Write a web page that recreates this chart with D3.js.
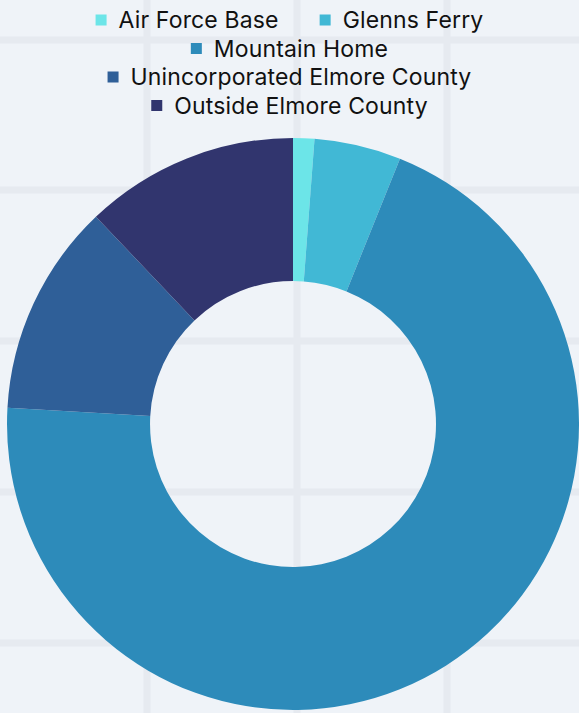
<!DOCTYPE html>
<html><head><meta charset="utf-8">
<script src="https://cdn.jsdelivr.net/npm/d3@7"></script>
<style>
html,body{margin:0;padding:0;background:#eff3f8;}
svg{display:block;}
</style></head>
<body>
<script>
const categories = ["Air Force Base","Glenns Ferry","Mountain Home","Unincorporated Elmore County","Outside Elmore County"];
const values = [1.2, 4.9, 69.8, 12.0, 12.1];
const colors = ["#6ce5e8","#41b8d5","#2d8bba","#2f5f98","#31356e"];

const W = 579, H = 713;
const svg = d3.select("body").append("svg").attr("width", W).attr("height", H);
svg.append("rect").attr("width", W).attr("height", H).attr("fill", "#eff3f8");

// background grid
const gridX = [147, 297, 447];
const gridY = [40, 190, 341, 492, 643];
const g0 = svg.append("g").attr("stroke", "#e6eaf0").attr("stroke-width", 7);
g0.selectAll("line.v").data(gridX).join("line").attr("x1", d => d).attr("x2", d => d).attr("y1", 0).attr("y2", H);
g0.selectAll("line.h").data(gridY).join("line").attr("y1", d => d).attr("y2", d => d).attr("x1", 0).attr("x2", W);

// donut
const cx = 293, cy = 424, R = 286, r = 143;
const pie = d3.pie().sort(null).value(d => d.v);
const arc = d3.arc().innerRadius(r).outerRadius(R);
const data = categories.map((c, i) => ({c, v: values[i]}));
const color = d3.scaleOrdinal().domain(categories).range(colors);
svg.append("g").attr("transform", `translate(${cx},${cy})`)
  .selectAll("path").data(pie(data)).join("path")
  .attr("d", arc).attr("fill", d => color(d.data.c));

// legend (flow layout, centered)
const fontSize = 23, sw = 11, swGap = 12, itemGap = 41, rowH = 28.5, maxW = 440;
const lg = svg.append("g").attr("font-family", "Inter, 'Open Sans', sans-serif")
  .attr("font-size", fontSize).attr("letter-spacing", "0.15px").attr("fill", "#111");
const tmp = lg.append("text").attr("visibility", "hidden");
const items = categories.map(c => { tmp.text(c); return {c, w: sw + swGap + tmp.node().getComputedTextLength()}; });
tmp.remove();
const rows = []; let cur = [], curW = 0;
items.forEach(it => {
  const add = cur.length ? itemGap + it.w : it.w;
  if (cur.length && curW + add > maxW) { rows.push({items: cur, w: curW}); cur = [it]; curW = it.w; }
  else { cur.push(it); curW += add; }
});
if (cur.length) rows.push({items: cur, w: curW});
rows.forEach((row, ri) => {
  let x = (W - row.w) / 2;
  const y = 20 + ri * rowH;
  row.items.forEach(it => {
    lg.append("rect").attr("x", x).attr("y", y - sw / 2).attr("width", sw).attr("height", sw).attr("fill", color(it.c));
    lg.append("text").attr("x", x + sw + swGap).attr("y", y).attr("dy", "0.35em").text(it.c);
    x += it.w + itemGap;
  });
});
</script>
</body></html>
